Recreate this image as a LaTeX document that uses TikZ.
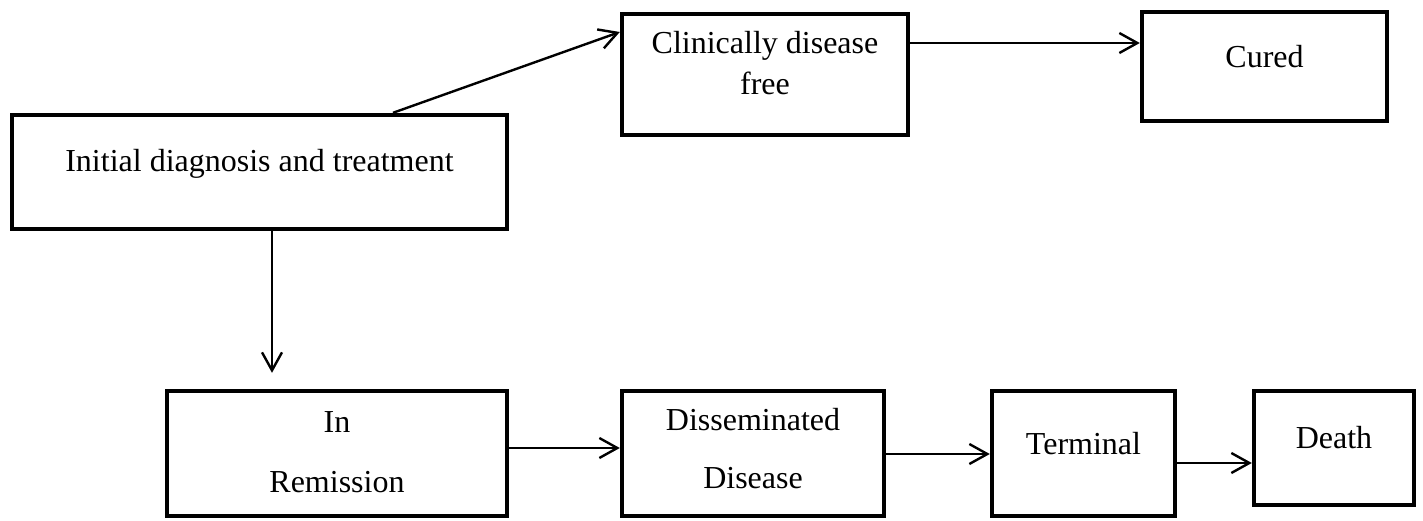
\documentclass[tikz,border=0pt]{standalone}
\usepackage{fontspec}
\setmainfont{Liberation Serif}
\usetikzlibrary{arrows.meta}
\begin{document}
\begin{tikzpicture}[x=0.5pt,y=-0.5pt]
            \useasboundingbox (0,0) rectangle (1423,520);
            \begin{scope}[every node/.style={rectangle,draw,line width=2.2pt,inner sep=0pt,align=center,
                    font=\fontsize{16}{20.5}\selectfont,text height=11pt}]
                \node[minimum width=247.5pt,minimum height=57pt,text depth=12pt] (init) at (259.5,172) {Initial diagnosis and treatment};
                \node[minimum width=143pt,minimum height=60.5pt,text height=19.5pt,text depth=0pt] (clin) at (765,74.5) {Clinically disease\\free};
                \node[minimum width=122.5pt,minimum height=54.5pt,text depth=10.5pt] (cured) at (1264.5,66.5) {Cured};
                \node[minimum width=170pt,minimum height=62.5pt,text height=38.5pt,text depth=0pt] (remis) at (337,453.5) {In\\[9.5pt]Remission};
                \node[minimum width=131pt,minimum height=62.5pt,text height=34.5pt,text depth=0pt] (dissem) at (753,453.5) {Disseminated\\[8.5pt]Disease};
                \node[minimum width=91.5pt,minimum height=62.5pt,text depth=10.5pt] (term) at (1083.5,453.5) {Terminal};
                \node[minimum width=80pt,minimum height=57pt,text depth=11pt] (death) at (1334,448) {Death};
            \end{scope}
            \begin{scope}[every path/.style={-{Straight Barb[length=9pt,width=10pt]},line width=1.2pt}]
                \path ([xshift=66.75pt]init.north) edge ([yshift=21.25pt]clin.west);
                \path ([yshift=15.75pt]clin.east) edge ([yshift=15.75pt]clin.east -| cured.west);
                \path [shorten >=8pt] ([xshift=6.25pt]init.south) edge ([xshift=6.25pt]init.south |- remis.north);
                \path ([yshift=2.75pt]remis.east) edge ([yshift=2.75pt]remis.east -| dissem.west);
                \path ([yshift=-0.25pt]dissem.east) edge ([yshift=-0.25pt]dissem.east -| term.west);
                \path ([yshift=-4.75pt]term.east) edge ([yshift=-4.75pt]term.east -| death.west);
            \end{scope}
        \end{tikzpicture}
\end{document}
